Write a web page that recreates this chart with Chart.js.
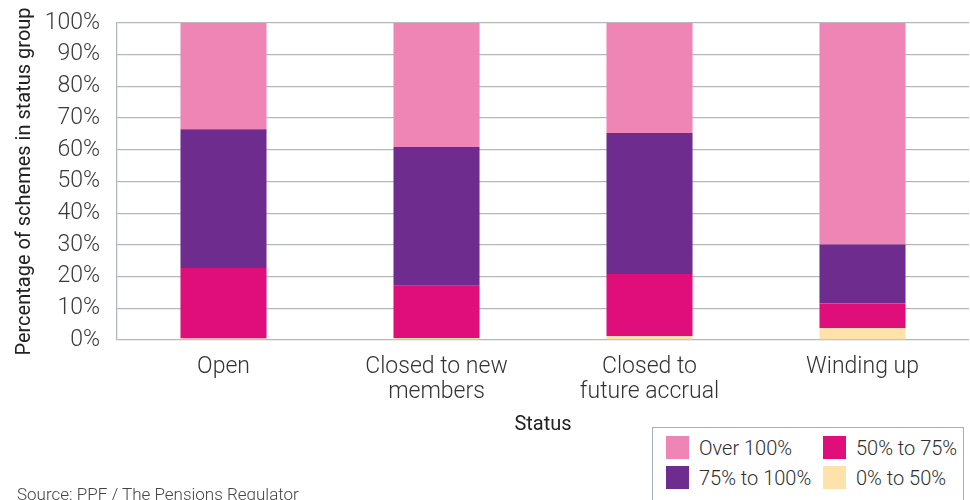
<!DOCTYPE html>
<html>
<head>
<meta charset="utf-8">
<script src="https://cdn.jsdelivr.net/npm/chart.js@4.4.1/dist/chart.umd.min.js"></script>
<style>
  html, body { margin: 0; padding: 0; background: #fff; }
  #wrap { position: relative; width: 970px; height: 500px; overflow: hidden; font-family: Roboto, "Liberation Sans", sans-serif; }
  #chart { position: absolute; left: 0; top: 0; }
  .legend-box {
    position: absolute; left: 652px; top: 427px; width: 312px; height: 90px;
    border: 1px solid #a9aeb4; box-sizing: border-box; background: #fff;
  }
  .legend-item { position: absolute; display: flex; align-items: center; height: 23px; font-size: 20px; font-weight: 300; color: #2e2e2e; white-space: nowrap; }
  .legend-item .sw { width: 23px; height: 23px; margin-right: 10px; }
  .source { position: absolute; left: 17px; top: 486px; font-size: 17px; line-height: 17px; font-weight: 300; color: #444; }
</style>
</head>
<body>
<div id="wrap">
  <canvas id="chart" width="970" height="500"></canvas>
  <div class="legend-box" id="legend"></div>
  <div class="source">Source: PPF / The Pensions Regulator</div>
</div>
<script>
  // Scheme status groups along the x axis
  const categories = ['Open', ['Closed to new', 'members'], ['Closed to', 'future accrual'], 'Winding up'];

  // Share of schemes in each funding band, % of status group
  const band0to50 = [0.5, 0.6, 1.2, 3.7];
  const band50to75 = [22.2, 16.5, 19.6, 7.8];
  const band75to100 = [43.8, 43.8, 44.5, 18.6];
  const bandOver100 = [33.5, 39.1, 34.7, 69.9];

  const yTicks = [0, 10, 20, 30, 40, 50, 60, 70, 80, 90, 100];

  const colors = {
    over100: '#ee85b4',
    to100: '#6d2c8e',
    to75: '#e00e7a',
    to50: '#fde2a9'
  };

  const axisFont = { family: 'Roboto, "Liberation Sans", sans-serif', size: 23, weight: 300 };
  const lineColor = '#b3b8be';

  new Chart(document.getElementById('chart'), {
    type: 'bar',
    data: {
      labels: categories,
      datasets: [
        { label: '0% to 50%', data: band0to50, backgroundColor: colors.to50 },
        { label: '50% to 75%', data: band50to75, backgroundColor: colors.to75 },
        { label: '75% to 100%', data: band75to100, backgroundColor: colors.to100 },
        { label: 'Over 100%', data: bandOver100, backgroundColor: colors.over100 }
      ]
    },
    options: {
      responsive: false,
      animation: false,
      events: [],
      layout: { padding: { top: 23, right: 1, left: 0, bottom: 0 } },
      datasets: { bar: { categoryPercentage: 1, barPercentage: 0.404, borderWidth: 0 } },
      plugins: { legend: { display: false }, tooltip: { enabled: false } },
      scales: {
        x: {
          stacked: true,
          grid: { display: false, drawTicks: false },
          border: { display: false },
          ticks: { color: '#333', font: { ...axisFont, lineHeight: 1.12 }, padding: 14, maxRotation: 0, autoSkip: false },
          title: { display: true, text: 'Status', color: '#222', font: { ...axisFont, size: 20, weight: 400 }, padding: { top: 0, bottom: 63 } },
          afterFit: (scale) => { scale.height = 160; }
        },
        y: {
          stacked: true,
          min: 0,
          max: 100,
          afterBuildTicks: (scale) => { scale.ticks = yTicks.map(v => ({ value: v })); },
          grid: { color: lineColor, lineWidth: 1.3, drawTicks: false },
          border: { display: true, color: lineColor, width: 1.3 },
          ticks: { color: '#3a3a3a', font: axisFont, padding: 17, callback: (v) => v + '%' },
          title: { display: true, text: 'Percentage of schemes in status group', color: '#222', font: { ...axisFont, size: 20, weight: 400 }, padding: { top: 13, bottom: 0 } },
          afterFit: (scale) => {
            // fixed axis width; let the layout padding set the top edge
            scale.width = 117;
            scale.paddingTop = 0;
            scale.paddingBottom = 0;
          }
        }
      }
    }
  });

  // Boxed legend, two columns
  const legendItems = [
    { text: 'Over 100%', color: colors.over100, x: 13, y: 8 },
    { text: '50% to 75%', color: colors.to75, x: 170, y: 8 },
    { text: '75% to 100%', color: colors.to100, x: 13, y: 38 },
    { text: '0% to 50%', color: colors.to50, x: 170, y: 38 }
  ];
  const legend = document.getElementById('legend');
  legendItems.forEach(item => {
    const el = document.createElement('div');
    el.className = 'legend-item';
    el.style.left = item.x + 'px';
    el.style.top = item.y + 'px';
    el.innerHTML = `<span class="sw" style="background:${item.color}"></span><span>${item.text}</span>`;
    legend.appendChild(el);
  });
</script>
</body>
</html>
